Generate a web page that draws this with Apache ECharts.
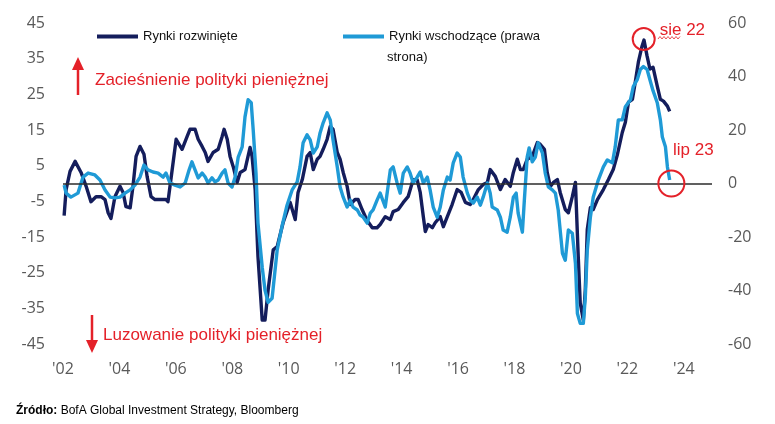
<!DOCTYPE html>
<html>
<head>
<meta charset="utf-8">
<script src="https://cdn.jsdelivr.net/npm/echarts@6.0.0/dist/echarts.min.js"></script>
<style>
html,body{margin:0;padding:0;background:#fff;}
#chart{width:775px;height:424px;}
</style>
</head>
<body>
<div id="chart"></div>
<script>
// Rynki rozwinięte (lewa oś) – decimal years and values
const dmYears = [2002.04,2002.11,2002.25,2002.43,2002.64,2002.82,2002.99,2003.17,2003.35,2003.49,2003.60,2003.70,2003.84,2004.02,2004.13,2004.23,2004.38,2004.48,2004.59,2004.73,2004.87,2004.98,2005.12,2005.26,2005.48,2005.65,2005.72,2005.87,2006.01,2006.22,2006.40,2006.50,2006.68,2006.79,2006.93,2007.04,2007.14,2007.32,2007.50,2007.64,2007.71,2007.82,2007.92,2008.03,2008.17,2008.28,2008.45,2008.63,2008.70,2008.81,2008.91,2009.06,2009.16,2009.27,2009.45,2009.59,2009.80,2010.05,2010.23,2010.33,2010.48,2010.65,2010.76,2010.87,2011.01,2011.11,2011.22,2011.36,2011.47,2011.57,2011.72,2011.82,2011.93,2012.07,2012.18,2012.35,2012.46,2012.60,2012.78,2012.96,2013.13,2013.24,2013.42,2013.60,2013.70,2013.88,2014.06,2014.23,2014.41,2014.55,2014.66,2014.77,2014.84,2014.94,2015.09,2015.19,2015.37,2015.48,2015.62,2015.79,2015.97,2016.11,2016.26,2016.43,2016.54,2016.72,2016.89,2017.04,2017.14,2017.32,2017.50,2017.67,2017.85,2017.96,2018.10,2018.21,2018.31,2018.45,2018.63,2018.81,2018.91,2019.06,2019.16,2019.27,2019.38,2019.52,2019.62,2019.80,2019.91,2020.05,2020.16,2020.26,2020.33,2020.44,2020.51,2020.58,2020.69,2020.79,2020.94,2021.15,2021.33,2021.50,2021.65,2021.82,2021.93,2022.04,2022.18,2022.28,2022.39,2022.52,2022.59,2022.70,2022.80,2022.91,2023.06,2023.17,2023.28,2023.42,2023.50];
const dmValues = [-9.0,-1.7,3.4,6.2,3.1,-0.8,-5.1,-3.7,-3.7,-4.5,-8.2,-9.8,-3.7,-0.8,-2.5,-6.5,-6.8,-0.8,7.6,10.4,8.2,2.0,-3.7,-4.5,-4.5,-4.5,-5.1,3.9,12.4,9.6,13.2,15.2,15.2,12.4,10.4,8.7,6.2,8.7,9.6,13.2,15.2,12.4,7.6,4.8,0.3,3.1,3.9,10.1,7.6,-1.7,-20.5,-38.3,-38.3,-29.8,-18.6,-17.7,-11.0,-5.3,-10.1,-2.5,1.1,7.6,8.7,3.9,6.8,7.6,9.6,12.4,16.0,15.2,8.7,6.8,3.1,-0.8,-5.9,-4.5,-4.5,-7.3,-10.4,-12.4,-12.4,-11.5,-9.3,-10.1,-7.9,-7.3,-5.3,-3.7,1.1,1.1,-2.5,-9.3,-13.5,-11.5,-12.4,-11.0,-9.3,-12.1,-9.3,-5.9,-1.7,-2.5,-5.3,-5.9,-4.5,-1.7,-0.3,0.3,3.9,2.0,-1.7,1.1,-0.8,3.1,6.8,3.9,3.9,6.8,7.6,11.5,11.0,9.6,3.1,-0.8,0.3,1.1,-2.5,-7.3,-8.2,-3.7,0.3,-20.5,-33.5,-38.3,-29.8,-12.9,-6.8,-7.3,-4.5,-1.7,1.1,3.9,8.2,14.3,17.2,22.8,23.6,28.4,34.0,38.5,40.2,35.7,32.1,32.6,27.3,23.6,23.1,21.7,20.2];

// Rynki wschodzące (prawa oś)
const emYears = [2002.04,2002.11,2002.28,2002.53,2002.71,2002.89,2003.13,2003.31,2003.49,2003.67,2003.84,2004.02,2004.20,2004.38,2004.55,2004.73,2004.87,2005.01,2005.19,2005.37,2005.55,2005.65,2005.79,2005.97,2006.15,2006.33,2006.47,2006.57,2006.68,2006.79,2006.93,2007.04,2007.14,2007.28,2007.39,2007.50,2007.64,2007.74,2007.85,2007.99,2008.10,2008.21,2008.35,2008.45,2008.56,2008.67,2008.74,2008.84,2008.91,2009.06,2009.16,2009.27,2009.41,2009.59,2009.77,2009.94,2010.12,2010.30,2010.40,2010.51,2010.65,2010.76,2010.87,2011.01,2011.11,2011.22,2011.36,2011.47,2011.57,2011.72,2011.82,2011.93,2012.07,2012.18,2012.28,2012.43,2012.53,2012.64,2012.78,2012.89,2012.99,2013.13,2013.24,2013.42,2013.60,2013.70,2013.84,2013.95,2014.06,2014.20,2014.30,2014.41,2014.55,2014.66,2014.77,2014.91,2015.01,2015.12,2015.26,2015.37,2015.48,2015.62,2015.72,2015.83,2015.97,2016.08,2016.18,2016.33,2016.43,2016.54,2016.68,2016.79,2016.89,2017.04,2017.14,2017.21,2017.39,2017.50,2017.60,2017.74,2017.85,2017.96,2018.06,2018.13,2018.28,2018.35,2018.45,2018.52,2018.63,2018.74,2018.84,2018.99,2019.09,2019.20,2019.34,2019.45,2019.55,2019.70,2019.80,2019.91,2020.05,2020.16,2020.23,2020.33,2020.44,2020.51,2020.58,2020.69,2020.79,2020.97,2021.15,2021.29,2021.47,2021.57,2021.68,2021.82,2021.93,2022.11,2022.21,2022.35,2022.46,2022.57,2022.70,2022.80,2022.91,2023.06,2023.17,2023.24,2023.35,2023.42,2023.50];
const emValues = [-0.6,-3.6,-5.1,-3.6,2.4,3.9,3.2,1.3,-2.4,-5.1,-5.4,-5.1,-3.6,-2.4,-0.6,2.4,6.9,5.1,4.3,3.9,2.4,3.9,0.2,-0.6,-1.3,0.2,5.1,8.1,5.1,2.1,3.9,2.4,0.2,2.1,0.6,1.3,3.9,5.1,0.2,-1.3,2.4,9.9,13.7,24.9,31.3,30.2,20.1,3.9,-14.8,-31.3,-39.9,-44.4,-42.9,-24.9,-15.6,-8.1,-2.4,0.6,6.2,15.2,18.2,16.3,11.4,13.7,18.9,22.7,26.4,23.8,16.3,6.2,-1.3,-5.1,-8.8,-6.2,-8.8,-9.9,-11.8,-12.6,-14.8,-11.1,-9.9,-6.2,-3.6,-8.8,5.1,6.2,0.2,-3.6,3.9,6.2,3.9,0.2,2.4,4.3,0.2,2.4,-2.4,-8.8,-12.6,-8.8,-2.4,2.4,1.3,7.7,11.4,9.9,2.4,-3.6,-6.2,-7.3,-5.1,-8.1,-5.1,0.2,-3.6,-8.8,-9.9,-12.6,-17.4,-18.2,-12.6,-5.1,-3.6,-11.1,-18.2,-6.2,9.9,13.3,8.1,9.9,15.2,11.4,3.9,-1.3,-2.4,-3.6,-9.9,-26.1,-28.7,-17.4,-18.6,-29.8,-48.6,-52.3,-52.3,-42.6,-24.9,-12.6,-5.1,1.3,6.2,8.8,7.7,13.7,23.8,23.8,28.7,31.3,36.2,38.8,42.6,43.7,42.6,38.8,34.7,30.2,23.8,17.4,13.7,6.2,1.3];

const leftTicks = [-45,-35,-25,-15,-5,5,15,25,35,45];
const xLabelYears = [2002,2004,2006,2008,2010,2012,2014,2016,2018,2020,2022,2024];

const peakDm = { name: 'sie 22', coord: [2022.58, 40.5] };
const lastEm = { name: 'lip 23', coord: [2023.56, 0] };

const DARK = '#141d5c';
const LIGHT = '#1f9ad6';
const RED = '#e42129';
const AXIS_TXT = '#595959';
const FONT = '"Open Sans", "Liberation Sans", sans-serif';
const TFONT = '"Liberation Sans", Arial, sans-serif';

const dmData = dmYears.map((y, i) => [y, dmValues[i]]);
const emData = emYears.map((y, i) => [y, emValues[i]]);

const chart = echarts.init(document.getElementById('chart'), null, { renderer: 'canvas' });

// wavy underline points for "sie"
const wave = [];
for (let i = 0; i <= 11; i++) wave.push([658 + i * 2, i % 2 ? 36.5 : 39]);

const option = {
  animation: false,
  backgroundColor: '#ffffff',
  grid: { left: 63, right: 63, top: 23, bottom: 80, containLabel: false },
  legend: [
    {
      left: 97, top: 30, padding: 0, icon: 'rect', itemWidth: 41, itemHeight: 4,
      data: ['Rynki rozwinięte'],
      textStyle: { color: '#111', fontSize: 13, fontFamily: TFONT }
    },
    {
      left: 343, top: 30, padding: 0, icon: 'rect', itemWidth: 41, itemHeight: 4,
      data: ['Rynki wschodzące (prawa'],
      textStyle: { color: '#111', fontSize: 13, fontFamily: TFONT }
    }
  ],
  xAxis: {
    type: 'value', min: 2002, max: 2025, interval: 1,
    axisLine: { show: false }, axisTick: { show: false }, splitLine: { show: false },
    axisLabel: {
      margin: 17, color: AXIS_TXT, fontSize: 16, fontFamily: FONT,
      showMaxLabel: false,
      formatter: v => xLabelYears.includes(v) ? "'" + String(v).slice(2) : ''
    }
  },
  yAxis: [
    {
      type: 'value', min: -45, max: 45, interval: 5, position: 'left',
      axisLine: { show: false }, axisTick: { show: false }, splitLine: { show: false },
      axisLabel: {
        margin: 18, color: AXIS_TXT, fontSize: 16, fontFamily: FONT,
        formatter: v => leftTicks.includes(v) ? String(v) : ''
      }
    },
    {
      type: 'value', min: -60, max: 60, interval: 20, position: 'right',
      axisLine: { show: false }, axisTick: { show: false }, splitLine: { show: false },
      axisLabel: { margin: 16, color: AXIS_TXT, fontSize: 16, fontFamily: FONT }
    }
  ],
  series: [
    {
      name: 'Rynki rozwinięte', type: 'line', yAxisIndex: 0, data: dmData,
      showSymbol: false, symbol: 'none', z: 3,
      lineStyle: { color: DARK, width: 3.4, join: 'round' }, itemStyle: { color: DARK },
      markLine: {
        silent: true, symbol: 'none', label: { show: false },
        lineStyle: { color: '#2b2b2b', width: 1.6, type: 'solid' },
        data: [{ yAxis: 0 }]
      },
      markPoint: {
        silent: true,
        data: [{
          coord: peakDm.coord, symbol: 'circle', symbolSize: 22,
          itemStyle: { color: 'rgba(0,0,0,0)', borderColor: RED, borderWidth: 2 },
          label: { show: true, formatter: peakDm.name, position: 'right', distance: 4, offset: [0, -9],
                   color: RED, fontSize: 17, fontFamily: TFONT }
        }]
      }
    },
    {
      name: 'Rynki wschodzące (prawa', type: 'line', yAxisIndex: 1, data: emData,
      showSymbol: false, symbol: 'none', z: 4,
      lineStyle: { color: LIGHT, width: 3.4, join: 'round' }, itemStyle: { color: LIGHT },
      markPoint: {
        silent: true,
        data: [{
          coord: lastEm.coord, symbol: 'circle', symbolSize: 26,
          itemStyle: { color: 'rgba(0,0,0,0)', borderColor: RED, borderWidth: 2 },
          label: { show: true, formatter: lastEm.name, position: 'top', distance: 5, offset: [22, -6],
                   color: RED, fontSize: 17, fontFamily: TFONT }
        }]
      }
    }
  ],
  graphic: [
    { type: 'text', left: 387, top: 51,
      style: { text: 'strona)', fill: '#111', fontSize: 13, fontFamily: TFONT } },
    // up arrow
    { type: 'line', shape: { x1: 78, y1: 68, x2: 78, y2: 95 }, style: { stroke: RED, lineWidth: 2.5 } },
    { type: 'polygon', shape: { points: [[72, 70], [84, 70], [78, 57]] }, style: { fill: RED } },
    { type: 'text', left: 95, top: 72,
      style: { text: 'Zacieśnienie polityki pieniężnej', fill: RED, fontSize: 17, fontFamily: TFONT } },
    // down arrow
    { type: 'line', shape: { x1: 92, y1: 315, x2: 92, y2: 342 }, style: { stroke: RED, lineWidth: 2.5 } },
    { type: 'polygon', shape: { points: [[86, 340], [98, 340], [92, 353]] }, style: { fill: RED } },
    { type: 'text', left: 103, top: 327,
      style: { text: 'Luzowanie polityki pieniężnej', fill: RED, fontSize: 17, fontFamily: TFONT } },
    // wavy underline
    { type: 'polyline', shape: { points: wave }, style: { stroke: RED, lineWidth: 0.8, fill: null } },
    // source
    { type: 'text', left: 16, top: 405,
      style: {
        text: '{b|Źródło:} BofA Global Investment Strategy, Bloomberg',
        fill: '#000', fontSize: 12, fontFamily: TFONT,
        rich: { b: { fontWeight: 'bold', fontSize: 12, fill: '#000', fontFamily: TFONT } }
      } }
  ]
};
chart.setOption(option);
</script>
</body>
</html>
